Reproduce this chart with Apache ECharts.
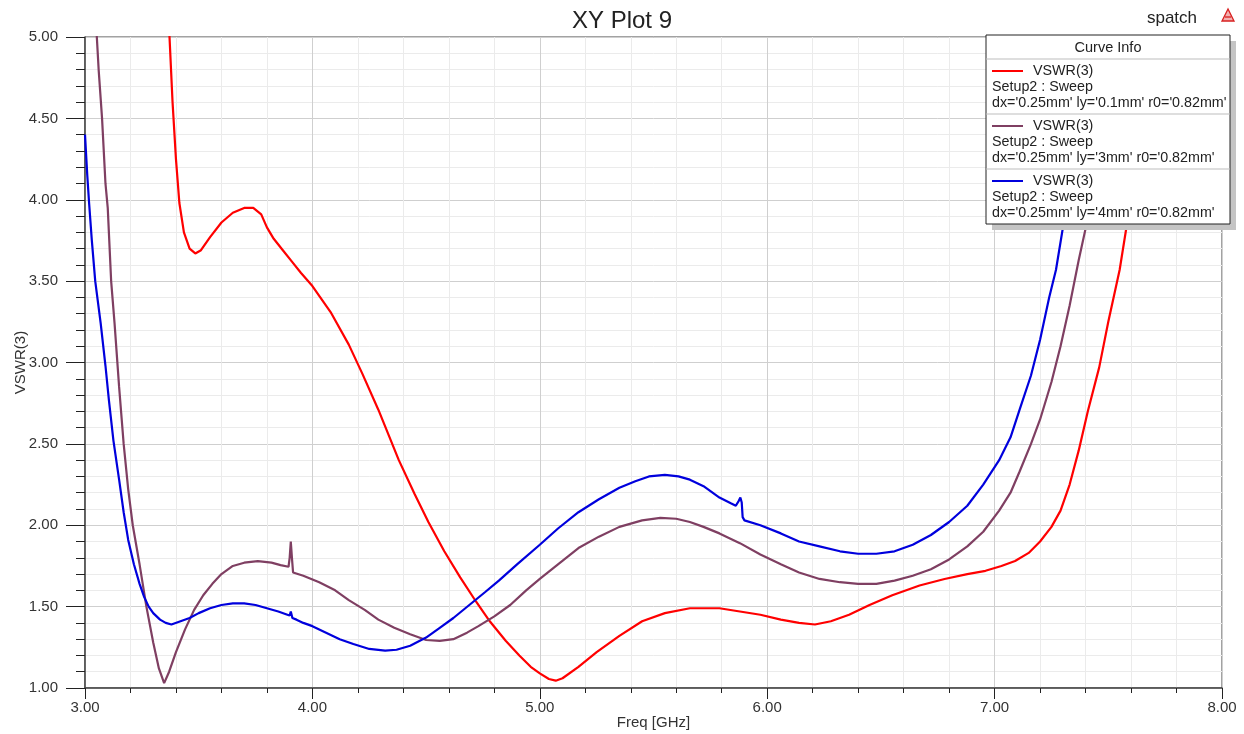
<!DOCTYPE html>
<html>
<head>
<meta charset="utf-8">
<title>XY Plot 9</title>
<script src="https://cdn.jsdelivr.net/npm/echarts@6/dist/echarts.min.js"></script>
<style>
  html, body { margin: 0; padding: 0; background: #ffffff; }
  #chart { width: 1244px; height: 734px; }
</style>
</head>
<body>
<div id="chart"></div>
<script>
// VSWR(3) versus frequency for three ly values, [freq GHz, VSWR]
const vswrLy01 = [
  [3.370, 5.05], [3.385, 4.60], [3.400, 4.25], [3.415, 3.98], [3.435, 3.80], [3.460, 3.70],
  [3.485, 3.67], [3.51, 3.69], [3.55, 3.77], [3.60, 3.86], [3.65, 3.92], [3.70, 3.95],
  [3.74, 3.95], [3.775, 3.91], [3.80, 3.83], [3.83, 3.76], [3.87, 3.69], [3.91, 3.62],
  [3.95, 3.55], [4.00, 3.47], [4.08, 3.31], [4.16, 3.11], [4.22, 2.93], [4.29, 2.71],
  [4.38, 2.40], [4.45, 2.19], [4.51, 2.02], [4.58, 1.84], [4.65, 1.68], [4.72, 1.53],
  [4.78, 1.41], [4.85, 1.29], [4.91, 1.20], [4.96, 1.13], [5.00, 1.09], [5.04, 1.055],
  [5.07, 1.045], [5.10, 1.06], [5.17, 1.13], [5.25, 1.22], [5.35, 1.32], [5.45, 1.41],
  [5.55, 1.46], [5.66, 1.49], [5.79, 1.49], [5.88, 1.47], [5.97, 1.45], [6.06, 1.42],
  [6.14, 1.40], [6.21, 1.39], [6.28, 1.41], [6.36, 1.45], [6.45, 1.51], [6.55, 1.57],
  [6.67, 1.63], [6.78, 1.67], [6.88, 1.70], [6.96, 1.72], [7.03, 1.75], [7.09, 1.78],
  [7.15, 1.83], [7.20, 1.90], [7.25, 1.99], [7.29, 2.09], [7.33, 2.25], [7.37, 2.46],
  [7.41, 2.70], [7.46, 2.97], [7.50, 3.25], [7.55, 3.57], [7.59, 3.92], [7.63, 4.18],
  [7.67, 4.45], [7.71, 4.75], [7.74, 5.05]
];

const vswrLy3 = [
  [3.050, 5.05], [3.060, 4.80], [3.075, 4.50], [3.090, 4.10], [3.100, 3.95], [3.115, 3.50],
  [3.13, 3.24], [3.15, 2.85], [3.17, 2.50], [3.19, 2.22], [3.21, 2.00], [3.24, 1.76],
  [3.27, 1.50], [3.30, 1.28], [3.325, 1.12], [3.348, 1.03], [3.37, 1.10], [3.40, 1.22],
  [3.44, 1.36], [3.48, 1.48], [3.52, 1.57], [3.56, 1.64], [3.60, 1.70], [3.65, 1.75],
  [3.70, 1.77], [3.76, 1.78], [3.82, 1.77], [3.86, 1.755], [3.895, 1.745], [3.900, 1.80],
  [3.905, 1.90], [3.910, 1.80], [3.915, 1.71], [3.96, 1.69], [4.03, 1.65], [4.10, 1.60],
  [4.16, 1.54], [4.23, 1.48], [4.29, 1.42], [4.36, 1.37], [4.43, 1.33], [4.50, 1.295],
  [4.56, 1.29], [4.62, 1.30], [4.68, 1.34], [4.73, 1.38], [4.80, 1.44], [4.87, 1.51],
  [4.94, 1.60], [5.00, 1.67], [5.08, 1.76], [5.17, 1.86], [5.26, 1.93], [5.35, 1.99],
  [5.45, 2.03], [5.53, 2.045], [5.60, 2.04], [5.66, 2.02], [5.72, 1.99], [5.79, 1.95],
  [5.88, 1.89], [5.97, 1.82], [6.06, 1.76], [6.14, 1.71], [6.23, 1.67], [6.32, 1.65],
  [6.40, 1.64], [6.48, 1.64], [6.56, 1.66], [6.64, 1.69], [6.72, 1.73], [6.80, 1.79],
  [6.88, 1.87], [6.95, 1.96], [7.02, 2.09], [7.07, 2.20], [7.11, 2.33], [7.16, 2.50],
  [7.20, 2.65], [7.25, 2.88], [7.29, 3.10], [7.33, 3.35], [7.37, 3.63], [7.42, 3.95],
  [7.46, 4.25], [7.50, 4.60], [7.53, 4.85], [7.55, 5.05]
];

const vswrLy4 = [
  [3.000, 4.40], [3.010, 4.15], [3.018, 3.98], [3.030, 3.75], [3.045, 3.50], [3.069, 3.24],
  [3.09, 2.98], [3.105, 2.77], [3.125, 2.52], [3.15, 2.28], [3.17, 2.08], [3.19, 1.91],
  [3.215, 1.76], [3.24, 1.64], [3.26, 1.56], [3.28, 1.50], [3.30, 1.46], [3.33, 1.42],
  [3.355, 1.40], [3.38, 1.39], [3.42, 1.41], [3.46, 1.43], [3.50, 1.46], [3.55, 1.49],
  [3.60, 1.51], [3.65, 1.52], [3.70, 1.52], [3.75, 1.51], [3.80, 1.49], [3.85, 1.47],
  [3.89, 1.45], [3.900, 1.445], [3.905, 1.47], [3.912, 1.43], [3.93, 1.42], [3.96, 1.40],
  [4.00, 1.38], [4.06, 1.34], [4.12, 1.30], [4.18, 1.27], [4.25, 1.24], [4.32, 1.23],
  [4.37, 1.235], [4.43, 1.26], [4.50, 1.31], [4.56, 1.37], [4.62, 1.43], [4.69, 1.51],
  [4.76, 1.59], [4.82, 1.66], [4.90, 1.76], [5.00, 1.88], [5.08, 1.98], [5.17, 2.08],
  [5.26, 2.16], [5.35, 2.23], [5.42, 2.27], [5.48, 2.30], [5.55, 2.31], [5.61, 2.30],
  [5.66, 2.28], [5.72, 2.24], [5.79, 2.17], [5.84, 2.135], [5.862, 2.12], [5.875, 2.15],
  [5.882, 2.17], [5.888, 2.14], [5.892, 2.05], [5.90, 2.03], [5.97, 2.00], [6.06, 1.95],
  [6.14, 1.90], [6.23, 1.87], [6.32, 1.84], [6.40, 1.825], [6.48, 1.825], [6.56, 1.84],
  [6.64, 1.88], [6.72, 1.94], [6.80, 2.02], [6.88, 2.12], [6.95, 2.25], [7.02, 2.40],
  [7.07, 2.54], [7.11, 2.71], [7.16, 2.92], [7.20, 3.14], [7.24, 3.40], [7.27, 3.57],
  [7.31, 3.91], [7.34, 4.20], [7.37, 4.50], [7.40, 4.80], [7.42, 5.05]
];

// Curve info entries: trace name, solution setup, swept parameters
const traceName = 'VSWR(3)';
const setupName = 'Setup2 : Sweep';
const curveParams = [
  "dx='0.25mm' ly='0.1mm' r0='0.82mm'",
  "dx='0.25mm' ly='3mm' r0='0.82mm'",
  "dx='0.25mm' ly='4mm' r0='0.82mm'"
];
const curveColors = ['#ff0000', '#7f3f62', '#0000dd'];
const curveData = [vswrLy01, vswrLy3, vswrLy4];

const FONT = '"Liberation Sans", Arial, sans-serif';
const chart = echarts.init(document.getElementById('chart'), null, { renderer: 'canvas' });

const series = curveData.map((d, i) => ({
  name: curveParams[i],
  type: 'line',
  data: d,
  showSymbol: false,
  symbol: 'none',
  clip: true,
  smooth: false,
  lineStyle: { color: curveColors[i], width: 2.2 },
  itemStyle: { color: curveColors[i] },
  z: 3 + i
}));

// Curve info box drawn with graphic elements
const boxX = 986, boxY = 35, boxW = 244, headH = 24, entryH = 55;
const boxH = headH + entryH * curveParams.length;
const graphics = [
  { type: 'rect', shape: { x: boxX + 6, y: boxY + 6, width: boxW, height: boxH },
    style: { fill: '#c4c4c4' }, z: 100 },
  { type: 'rect', shape: { x: boxX, y: boxY, width: boxW, height: boxH },
    style: { fill: '#ffffff', stroke: '#222222', lineWidth: 1 }, z: 101 },
  { type: 'text', x: boxX + boxW / 2, y: boxY + 13, z: 102,
    style: { text: 'Curve Info', font: '14.5px ' + FONT, fill: '#222', align: 'center', verticalAlign: 'middle' } },
  { type: 'text', x: 1172, y: 18, z: 102,
    style: { text: 'spatch', font: '17px ' + FONT, fill: '#222', align: 'center', verticalAlign: 'middle' } },
  // small red corner emblem
  { type: 'polygon', shape: { points: [[1228, 9], [1222, 21], [1234, 21]] },
    style: { fill: '#f2b0b0', stroke: '#d82020', lineWidth: 1.3 }, z: 102 },
  { type: 'line', shape: { x1: 1225, y1: 17, x2: 1231, y2: 17 },
    style: { stroke: '#d82020', lineWidth: 1.3 }, z: 102 }
];
curveParams.forEach((p, i) => {
  const top = boxY + headH + i * entryH;
  graphics.push(
    { type: 'line', shape: { x1: boxX, y1: top, x2: boxX + boxW, y2: top },
      style: { stroke: '#bdbdbd', lineWidth: 1 }, z: 102 },
    { type: 'line', shape: { x1: boxX + 6, y1: top + 12, x2: boxX + 37, y2: top + 12 },
      style: { stroke: curveColors[i], lineWidth: 2 }, z: 102 },
    { type: 'text', x: boxX + 47, y: top + 12, z: 102,
      style: { text: traceName, font: '14.3px ' + FONT, fill: '#222', verticalAlign: 'middle' } },
    { type: 'text', x: boxX + 6, y: top + 28, z: 102,
      style: { text: setupName, font: '14.3px ' + FONT, fill: '#222', verticalAlign: 'middle' } },
    { type: 'text', x: boxX + 6, y: top + 44, z: 102,
      style: { text: p, font: '14.3px ' + FONT, fill: '#222', verticalAlign: 'middle' } }
  );
});

const option = {
  backgroundColor: '#ffffff',
  animation: false,
  title: {
    text: 'XY Plot 9',
    left: 'center',
    top: 4,
    textStyle: { fontFamily: FONT, fontSize: 24, fontWeight: 'normal', color: '#222' }
  },
  grid: {
    left: 85, right: 22, top: 37, bottom: 46,
    outerBoundsMode: 'none',
    containLabel: false,
    show: true, borderColor: '#444', borderWidth: 1, backgroundColor: 'transparent'
  },
  xAxis: {
    type: 'value',
    min: 3, max: 8, interval: 1,
    name: 'Freq [GHz]',
    nameLocation: 'middle',
    nameGap: 27,
    nameMoveOverlap: false,
    nameTextStyle: { fontFamily: FONT, fontSize: 15, color: '#333' },
    axisLine: { show: true, onZero: false, lineStyle: { color: '#444', width: 1.5 } },
    axisTick: { show: true, length: 11, lineStyle: { color: '#222' } },
    minorTick: { show: true, splitNumber: 5, length: 5, lineStyle: { color: '#222' } },
    axisLabel: { margin: 12, fontFamily: FONT, fontSize: 15, color: '#333',
      formatter: v => v.toFixed(2) },
    splitLine: { show: true, lineStyle: { color: '#cfcfcf', width: 1 } },
    minorSplitLine: { show: true, lineStyle: { color: '#ebebeb', width: 1 } }
  },
  yAxis: {
    type: 'value',
    min: 1, max: 5, interval: 0.5,
    name: 'VSWR(3)',
    nameLocation: 'middle',
    nameGap: 57,
    nameRotate: 90,
    nameMoveOverlap: false,
    nameTextStyle: { fontFamily: FONT, fontSize: 15, color: '#333' },
    axisLine: { show: true, onZero: false, lineStyle: { color: '#444', width: 1.5 } },
    axisTick: { show: true, length: 19, lineStyle: { color: '#222' } },
    minorTick: { show: true, splitNumber: 5, length: 9, lineStyle: { color: '#222' } },
    axisLabel: { margin: 27, fontFamily: FONT, fontSize: 15, color: '#333',
      formatter: v => v.toFixed(2) },
    splitLine: { show: true, lineStyle: { color: '#cfcfcf', width: 1 } },
    minorSplitLine: { show: true, lineStyle: { color: '#ebebeb', width: 1 } }
  },
  series: series,
  graphic: graphics
};

chart.setOption(option);
</script>
</body>
</html>
